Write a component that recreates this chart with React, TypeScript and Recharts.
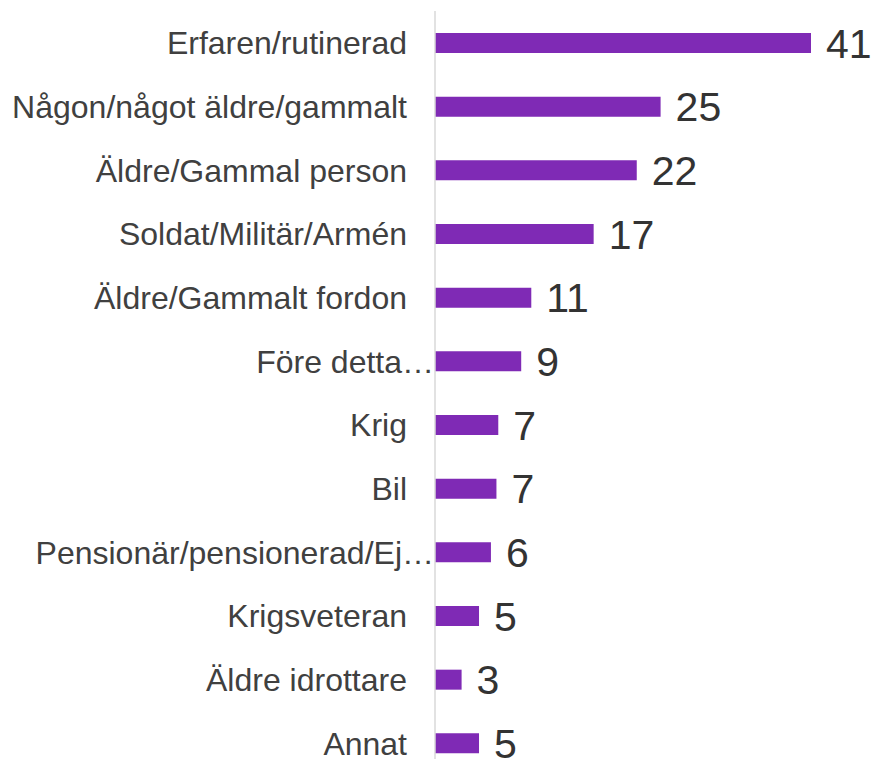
import { BarChart, Bar, XAxis, YAxis, LabelList } from "recharts";

const categories = [
  "Erfaren/rutinerad",
  "Någon/något äldre/gammalt",
  "Äldre/Gammal person",
  "Soldat/Militär/Armén",
  "Äldre/Gammalt fordon",
  "Före detta…",
  "Krig",
  "Bil",
  "Pensionär/pensionerad/Ej…",
  "Krigsveteran",
  "Äldre idrottare",
  "Annat",
];

const values = [41.0, 24.6, 22.0, 17.3, 10.5, 9.4, 6.9, 6.7, 6.1, 4.8, 2.9, 4.8];

const data = categories.map((name, i) => ({ name, value: values[i] }));

const FONT = '"Liberation Sans", Arial, sans-serif';

/* eslint-disable @typescript-eslint/no-explicit-any */
function CategoryTick({ x, y, payload }: any) {
  const label: string = payload.value;
  // truncated labels run right up to the axis, full ones keep a gap
  const dx = label.endsWith("…") ? -1 : -28;
  return (
    <text x={x + dx} y={y} dy="0.355em" textAnchor="end" fill="#404040" fontSize={32} fontFamily={FONT}>
      {label}
    </text>
  );
}
/* eslint-enable @typescript-eslint/no-explicit-any */

export default function App() {
  return (
    <div style={{ position: "absolute", left: 0, top: 0, width: 874, height: 759, overflow: "hidden", background: "#fff" }}>
      <BarChart
        width={874}
        height={790}
        data={data}
        layout="vertical"
        margin={{ top: 11, right: 63, bottom: 15, left: 0 }}
        barCategoryGap="35%"
      >
        <XAxis type="number" domain={[0, 41]} hide />
        <YAxis
          type="category"
          dataKey="name"
          width={435}
          tickLine={false}
          tickSize={0}
          tickMargin={0}
          axisLine={{ stroke: "#d9d9d9", strokeWidth: 1.5 }}
          tick={<CategoryTick />}
          interval={0}
        />
        <Bar dataKey="value" fill="#7f2ab5" barSize={20} isAnimationActive={false}>
          <LabelList
            dataKey="value"
            position="right"
            offset={15}
            formatter={(v: number) => Math.round(v)}
            fill="#333333"
            fontSize={41}
            fontFamily={FONT}
          />
        </Bar>
      </BarChart>
    </div>
  );
}
